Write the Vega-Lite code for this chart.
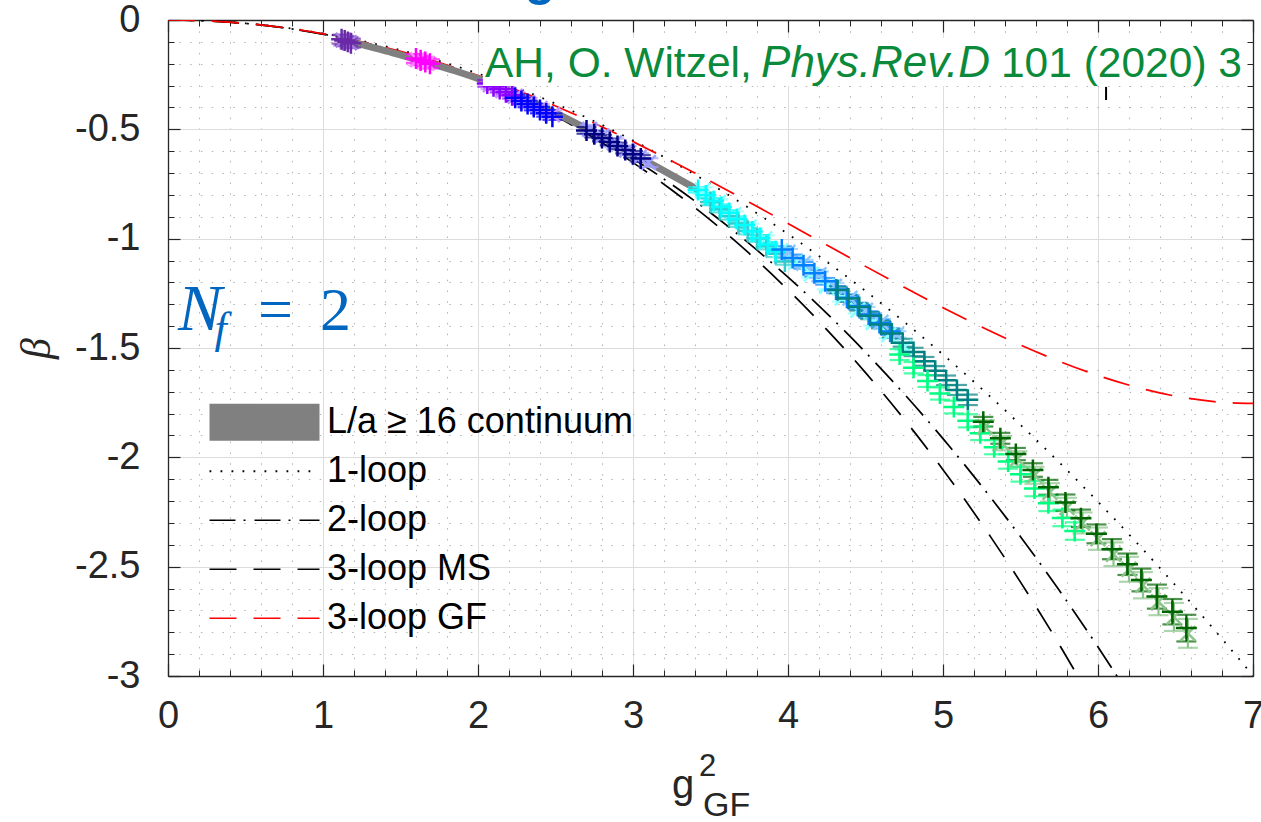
{
  "$schema": "https://vega.github.io/schema/vega-lite/v6.json",
  "width": 1085,
  "height": 656,
  "autosize": "none",
  "padding": {"left": 168, "top": 20, "right": 8, "bottom": 146},
  "background": "white",
  "config": {
    "view": {"stroke": null},
    "axis": {"domainColor": "#262626", "tickColor": "#262626", "labelColor": "#262626", "titleColor": "#262626", "labelFont": "Liberation Sans", "titleFont": "Liberation Sans", "gridColor": "#dcdcdc"},
    "legend": {"orient": "none", "legendX": 23, "legendY": 378, "padding": 0, "symbolType": "stroke", "symbolSize": 12100, "clipHeight": 48.5, "rowPadding": 0, "labelFont": "Liberation Sans", "labelFontSize": 36, "labelColor": "#000000", "labelOffset": -11, "labelLimit": 600}
  },
  "datasets": {
    "cont": [
      {"x": 1.10, "y": -0.085},
      {"x": 1.25, "y": -0.113},
      {"x": 1.45, "y": -0.150},
      {"x": 1.65, "y": -0.190},
      {"x": 1.85, "y": -0.232},
      {"x": 2.05, "y": -0.281},
      {"x": 2.25, "y": -0.340},
      {"x": 2.50, "y": -0.425},
      {"x": 2.75, "y": -0.516},
      {"x": 3.00, "y": -0.612},
      {"x": 3.20, "y": -0.690},
      {"x": 3.42, "y": -0.777}
    ],
    "curves": [
      {"curve": "1-loop", "x": 0, "y": 0},
      {"curve": "1-loop", "x": 0.25, "y": -0.0038},
      {"curve": "1-loop", "x": 0.5, "y": -0.0153},
      {"curve": "1-loop", "x": 0.75, "y": -0.0344},
      {"curve": "1-loop", "x": 1, "y": -0.0612},
      {"curve": "1-loop", "x": 1.25, "y": -0.0956},
      {"curve": "1-loop", "x": 1.5, "y": -0.1377},
      {"curve": "1-loop", "x": 1.75, "y": -0.1874},
      {"curve": "1-loop", "x": 2, "y": -0.2448},
      {"curve": "1-loop", "x": 2.25, "y": -0.3098},
      {"curve": "1-loop", "x": 2.5, "y": -0.3825},
      {"curve": "1-loop", "x": 2.75, "y": -0.4628},
      {"curve": "1-loop", "x": 3, "y": -0.5508},
      {"curve": "1-loop", "x": 3.25, "y": -0.6464},
      {"curve": "1-loop", "x": 3.5, "y": -0.7497},
      {"curve": "1-loop", "x": 3.75, "y": -0.8606},
      {"curve": "1-loop", "x": 4, "y": -0.9792},
      {"curve": "1-loop", "x": 4.25, "y": -1.1054},
      {"curve": "1-loop", "x": 4.5, "y": -1.2393},
      {"curve": "1-loop", "x": 4.75, "y": -1.3808},
      {"curve": "1-loop", "x": 5, "y": -1.53},
      {"curve": "1-loop", "x": 5.25, "y": -1.6868},
      {"curve": "1-loop", "x": 5.5, "y": -1.8513},
      {"curve": "1-loop", "x": 5.75, "y": -2.0234},
      {"curve": "1-loop", "x": 6, "y": -2.2032},
      {"curve": "1-loop", "x": 6.25, "y": -2.3906},
      {"curve": "1-loop", "x": 6.5, "y": -2.5857},
      {"curve": "1-loop", "x": 6.75, "y": -2.7884},
      {"curve": "1-loop", "x": 7, "y": -2.9988},
      {"curve": "2-loop", "x": 0, "y": 0},
      {"curve": "2-loop", "x": 0.25, "y": -0.0039},
      {"curve": "2-loop", "x": 0.5, "y": -0.0157},
      {"curve": "2-loop", "x": 0.75, "y": -0.0357},
      {"curve": "2-loop", "x": 1, "y": -0.0643},
      {"curve": "2-loop", "x": 1.25, "y": -0.1016},
      {"curve": "2-loop", "x": 1.5, "y": -0.1481},
      {"curve": "2-loop", "x": 1.75, "y": -0.2039},
      {"curve": "2-loop", "x": 2, "y": -0.2694},
      {"curve": "2-loop", "x": 2.25, "y": -0.3448},
      {"curve": "2-loop", "x": 2.5, "y": -0.4306},
      {"curve": "2-loop", "x": 2.75, "y": -0.5268},
      {"curve": "2-loop", "x": 3, "y": -0.6338},
      {"curve": "2-loop", "x": 3.25, "y": -0.7520},
      {"curve": "2-loop", "x": 3.5, "y": -0.8815},
      {"curve": "2-loop", "x": 3.75, "y": -1.0228},
      {"curve": "2-loop", "x": 4, "y": -1.1760},
      {"curve": "2-loop", "x": 4.25, "y": -1.3415},
      {"curve": "2-loop", "x": 4.5, "y": -1.5195},
      {"curve": "2-loop", "x": 4.75, "y": -1.7104},
      {"curve": "2-loop", "x": 5, "y": -1.9144},
      {"curve": "2-loop", "x": 5.25, "y": -2.1318},
      {"curve": "2-loop", "x": 5.5, "y": -2.3629},
      {"curve": "2-loop", "x": 5.75, "y": -2.6080},
      {"curve": "2-loop", "x": 6, "y": -2.8674},
      {"curve": "2-loop", "x": 6.25, "y": -3.1413},
      {"curve": "3-loop MS", "x": 0, "y": 0},
      {"curve": "3-loop MS", "x": 0.25, "y": -0.0039},
      {"curve": "3-loop MS", "x": 0.5, "y": -0.0157},
      {"curve": "3-loop MS", "x": 0.75, "y": -0.0358},
      {"curve": "3-loop MS", "x": 1, "y": -0.0645},
      {"curve": "3-loop MS", "x": 1.25, "y": -0.1022},
      {"curve": "3-loop MS", "x": 1.5, "y": -0.1492},
      {"curve": "3-loop MS", "x": 1.75, "y": -0.2060},
      {"curve": "3-loop MS", "x": 2, "y": -0.2730},
      {"curve": "3-loop MS", "x": 2.25, "y": -0.3506},
      {"curve": "3-loop MS", "x": 2.5, "y": -0.4394},
      {"curve": "3-loop MS", "x": 2.75, "y": -0.5398},
      {"curve": "3-loop MS", "x": 3, "y": -0.6522},
      {"curve": "3-loop MS", "x": 3.25, "y": -0.7773},
      {"curve": "3-loop MS", "x": 3.5, "y": -0.9156},
      {"curve": "3-loop MS", "x": 3.75, "y": -1.0677},
      {"curve": "3-loop MS", "x": 4, "y": -1.2341},
      {"curve": "3-loop MS", "x": 4.25, "y": -1.4156},
      {"curve": "3-loop MS", "x": 4.5, "y": -1.6126},
      {"curve": "3-loop MS", "x": 4.75, "y": -1.8260},
      {"curve": "3-loop MS", "x": 5, "y": -2.0563},
      {"curve": "3-loop MS", "x": 5.25, "y": -2.3042},
      {"curve": "3-loop MS", "x": 5.5, "y": -2.5706},
      {"curve": "3-loop MS", "x": 5.75, "y": -2.8561},
      {"curve": "3-loop MS", "x": 6, "y": -3.1616},
      {"curve": "3-loop GF", "x": 0, "y": 0},
      {"curve": "3-loop GF", "x": 0.25, "y": -0.0039},
      {"curve": "3-loop GF", "x": 0.5, "y": -0.0156},
      {"curve": "3-loop GF", "x": 0.75, "y": -0.0354},
      {"curve": "3-loop GF", "x": 1, "y": -0.0633},
      {"curve": "3-loop GF", "x": 1.25, "y": -0.0993},
      {"curve": "3-loop GF", "x": 1.5, "y": -0.1433},
      {"curve": "3-loop GF", "x": 1.75, "y": -0.1949},
      {"curve": "3-loop GF", "x": 2, "y": -0.2541},
      {"curve": "3-loop GF", "x": 2.25, "y": -0.3203},
      {"curve": "3-loop GF", "x": 2.5, "y": -0.3931},
      {"curve": "3-loop GF", "x": 2.75, "y": -0.4720},
      {"curve": "3-loop GF", "x": 3, "y": -0.5562},
      {"curve": "3-loop GF", "x": 3.25, "y": -0.6451},
      {"curve": "3-loop GF", "x": 3.5, "y": -0.7377},
      {"curve": "3-loop GF", "x": 3.75, "y": -0.8334},
      {"curve": "3-loop GF", "x": 4, "y": -0.9308},
      {"curve": "3-loop GF", "x": 4.25, "y": -1.0289},
      {"curve": "3-loop GF", "x": 4.5, "y": -1.1267},
      {"curve": "3-loop GF", "x": 4.75, "y": -1.2227},
      {"curve": "3-loop GF", "x": 5, "y": -1.3156},
      {"curve": "3-loop GF", "x": 5.25, "y": -1.4040},
      {"curve": "3-loop GF", "x": 5.5, "y": -1.4863},
      {"curve": "3-loop GF", "x": 5.75, "y": -1.5608},
      {"curve": "3-loop GF", "x": 6, "y": -1.6258},
      {"curve": "3-loop GF", "x": 6.25, "y": -1.6795},
      {"curve": "3-loop GF", "x": 6.5, "y": -1.7201},
      {"curve": "3-loop GF", "x": 6.75, "y": -1.7454},
      {"curve": "3-loop GF", "x": 7, "y": -1.7535}
    ],
    "pts": [
      {"s": "P1L", "x": 1.13, "y": -0.092, "e": 0.025},
      {"s": "P1L", "x": 1.17, "y": -0.104, "e": 0.025},
      {"s": "P1", "x": 1.12, "y": -0.088, "e": 0.02},
      {"s": "P1", "x": 1.14, "y": -0.094, "e": 0.02},
      {"s": "P1", "x": 1.16, "y": -0.100, "e": 0.02},
      {"s": "P1", "x": 1.18, "y": -0.106, "e": 0.02},
      {"s": "ML", "x": 1.61, "y": -0.182, "e": 0.025},
      {"s": "ML", "x": 1.67, "y": -0.198, "e": 0.025},
      {"s": "M", "x": 1.60, "y": -0.176, "e": 0.02},
      {"s": "M", "x": 1.63, "y": -0.184, "e": 0.02},
      {"s": "M", "x": 1.66, "y": -0.192, "e": 0.02},
      {"s": "M", "x": 1.69, "y": -0.200, "e": 0.02},
      {"s": "VL", "x": 2.08, "y": -0.296, "e": 0.02},
      {"s": "VL", "x": 2.16, "y": -0.322, "e": 0.02},
      {"s": "VL", "x": 2.24, "y": -0.349, "e": 0.02},
      {"s": "VL", "x": 2.32, "y": -0.377, "e": 0.02},
      {"s": "VL", "x": 2.40, "y": -0.405, "e": 0.02},
      {"s": "VL", "x": 2.48, "y": -0.433, "e": 0.02},
      {"s": "V", "x": 2.06, "y": -0.290, "e": 0.015},
      {"s": "V", "x": 2.10, "y": -0.303, "e": 0.015},
      {"s": "V", "x": 2.14, "y": -0.316, "e": 0.015},
      {"s": "V", "x": 2.18, "y": -0.330, "e": 0.015},
      {"s": "V", "x": 2.22, "y": -0.344, "e": 0.015},
      {"s": "B", "x": 2.24, "y": -0.356, "e": 0.015},
      {"s": "B", "x": 2.28, "y": -0.370, "e": 0.015},
      {"s": "B", "x": 2.32, "y": -0.384, "e": 0.015},
      {"s": "B", "x": 2.36, "y": -0.398, "e": 0.015},
      {"s": "B", "x": 2.40, "y": -0.412, "e": 0.015},
      {"s": "B", "x": 2.44, "y": -0.427, "e": 0.015},
      {"s": "B", "x": 2.48, "y": -0.442, "e": 0.015},
      {"s": "NL", "x": 2.72, "y": -0.500, "e": 0.02},
      {"s": "NL", "x": 2.80, "y": -0.530, "e": 0.02},
      {"s": "NL", "x": 2.88, "y": -0.562, "e": 0.02},
      {"s": "NL", "x": 2.96, "y": -0.595, "e": 0.02},
      {"s": "NL", "x": 3.04, "y": -0.628, "e": 0.02},
      {"s": "NL", "x": 3.10, "y": -0.652, "e": 0.02},
      {"s": "N", "x": 2.70, "y": -0.505, "e": 0.015},
      {"s": "N", "x": 2.75, "y": -0.522, "e": 0.015},
      {"s": "N", "x": 2.80, "y": -0.540, "e": 0.015},
      {"s": "N", "x": 2.85, "y": -0.558, "e": 0.015},
      {"s": "N", "x": 2.90, "y": -0.576, "e": 0.015},
      {"s": "N", "x": 2.95, "y": -0.595, "e": 0.015},
      {"s": "N", "x": 3.00, "y": -0.614, "e": 0.015},
      {"s": "N", "x": 3.05, "y": -0.633, "e": 0.015},
      {"s": "CL", "x": 3.45, "y": -0.780, "e": 0.015},
      {"s": "CL", "x": 3.55, "y": -0.835, "e": 0.015},
      {"s": "CL", "x": 3.65, "y": -0.890, "e": 0.015},
      {"s": "CL", "x": 3.75, "y": -0.946, "e": 0.015},
      {"s": "CL", "x": 3.85, "y": -1.000, "e": 0.015},
      {"s": "CL", "x": 3.95, "y": -1.055, "e": 0.015},
      {"s": "CL", "x": 4.05, "y": -1.108, "e": 0.015},
      {"s": "CL", "x": 4.15, "y": -1.162, "e": 0.015},
      {"s": "CL", "x": 4.25, "y": -1.217, "e": 0.015},
      {"s": "CL", "x": 4.35, "y": -1.272, "e": 0.015},
      {"s": "CL", "x": 4.45, "y": -1.327, "e": 0.015},
      {"s": "CL", "x": 4.55, "y": -1.383, "e": 0.015},
      {"s": "CL", "x": 4.65, "y": -1.440, "e": 0.015},
      {"s": "CL", "x": 4.75, "y": -1.495, "e": 0.015},
      {"s": "T2", "x": 3.50, "y": -0.832, "e": 0.015},
      {"s": "T2", "x": 3.56, "y": -0.865, "e": 0.015},
      {"s": "T2", "x": 3.62, "y": -0.898, "e": 0.015},
      {"s": "T2", "x": 3.68, "y": -0.931, "e": 0.015},
      {"s": "T2", "x": 3.74, "y": -0.965, "e": 0.015},
      {"s": "T2", "x": 3.80, "y": -0.999, "e": 0.015},
      {"s": "T2", "x": 3.86, "y": -1.034, "e": 0.015},
      {"s": "T2", "x": 3.92, "y": -1.069, "e": 0.015},
      {"s": "T2", "x": 3.98, "y": -1.104, "e": 0.015},
      {"s": "C", "x": 3.42, "y": -0.777, "e": 0.012},
      {"s": "C", "x": 3.47, "y": -0.802, "e": 0.012},
      {"s": "C", "x": 3.52, "y": -0.828, "e": 0.012},
      {"s": "C", "x": 3.57, "y": -0.855, "e": 0.012},
      {"s": "C", "x": 3.62, "y": -0.882, "e": 0.012},
      {"s": "C", "x": 3.67, "y": -0.910, "e": 0.012},
      {"s": "C", "x": 3.72, "y": -0.938, "e": 0.012},
      {"s": "C", "x": 3.77, "y": -0.967, "e": 0.012},
      {"s": "C", "x": 3.82, "y": -0.997, "e": 0.012},
      {"s": "C", "x": 3.87, "y": -1.027, "e": 0.012},
      {"s": "C", "x": 3.92, "y": -1.058, "e": 0.012},
      {"s": "DL", "x": 4.00, "y": -1.062, "e": 0.015},
      {"s": "DL", "x": 4.10, "y": -1.112, "e": 0.015},
      {"s": "DL", "x": 4.20, "y": -1.165, "e": 0.015},
      {"s": "DL", "x": 4.30, "y": -1.218, "e": 0.015},
      {"s": "DL", "x": 4.40, "y": -1.272, "e": 0.015},
      {"s": "DL", "x": 4.50, "y": -1.327, "e": 0.015},
      {"s": "DL", "x": 4.60, "y": -1.382, "e": 0.015},
      {"s": "DL", "x": 4.70, "y": -1.438, "e": 0.015},
      {"s": "D", "x": 3.96, "y": -1.050, "e": 0.015},
      {"s": "D", "x": 4.03, "y": -1.088, "e": 0.015},
      {"s": "D", "x": 4.10, "y": -1.122, "e": 0.015},
      {"s": "D", "x": 4.17, "y": -1.158, "e": 0.015},
      {"s": "D", "x": 4.24, "y": -1.195, "e": 0.015},
      {"s": "D", "x": 4.31, "y": -1.232, "e": 0.015},
      {"s": "D", "x": 4.38, "y": -1.270, "e": 0.015},
      {"s": "D", "x": 4.45, "y": -1.308, "e": 0.015},
      {"s": "D", "x": 4.52, "y": -1.347, "e": 0.015},
      {"s": "D", "x": 4.59, "y": -1.386, "e": 0.015},
      {"s": "D", "x": 4.66, "y": -1.425, "e": 0.015},
      {"s": "T", "x": 4.32, "y": -1.235, "e": 0.015},
      {"s": "T", "x": 4.39, "y": -1.274, "e": 0.015},
      {"s": "T", "x": 4.46, "y": -1.313, "e": 0.016},
      {"s": "T", "x": 4.53, "y": -1.352, "e": 0.016},
      {"s": "T", "x": 4.60, "y": -1.393, "e": 0.017},
      {"s": "T", "x": 4.67, "y": -1.434, "e": 0.018},
      {"s": "T", "x": 4.74, "y": -1.476, "e": 0.018},
      {"s": "T", "x": 4.81, "y": -1.518, "e": 0.019},
      {"s": "T", "x": 4.88, "y": -1.561, "e": 0.020},
      {"s": "T", "x": 4.95, "y": -1.604, "e": 0.021},
      {"s": "T", "x": 5.02, "y": -1.648, "e": 0.022},
      {"s": "T", "x": 5.09, "y": -1.692, "e": 0.023},
      {"s": "T", "x": 5.16, "y": -1.737, "e": 0.024},
      {"s": "S", "x": 4.72, "y": -1.530, "e": 0.025},
      {"s": "S", "x": 4.81, "y": -1.590, "e": 0.026},
      {"s": "S", "x": 4.90, "y": -1.651, "e": 0.027},
      {"s": "S", "x": 4.98, "y": -1.708, "e": 0.028},
      {"s": "S", "x": 5.07, "y": -1.770, "e": 0.029},
      {"s": "S", "x": 5.16, "y": -1.833, "e": 0.030},
      {"s": "S", "x": 5.24, "y": -1.890, "e": 0.031},
      {"s": "S", "x": 5.33, "y": -1.954, "e": 0.032},
      {"s": "S", "x": 5.42, "y": -2.019, "e": 0.033},
      {"s": "S", "x": 5.50, "y": -2.077, "e": 0.034},
      {"s": "S", "x": 5.59, "y": -2.143, "e": 0.035},
      {"s": "S", "x": 5.68, "y": -2.210, "e": 0.036},
      {"s": "S", "x": 5.77, "y": -2.277, "e": 0.038},
      {"s": "S", "x": 5.85, "y": -2.337, "e": 0.040},
      {"s": "GL", "x": 5.27, "y": -1.860, "e": 0.030},
      {"s": "GL", "x": 5.38, "y": -1.935, "e": 0.033},
      {"s": "GL", "x": 5.48, "y": -2.008, "e": 0.036},
      {"s": "GL", "x": 5.59, "y": -2.082, "e": 0.039},
      {"s": "GL", "x": 5.69, "y": -2.160, "e": 0.042},
      {"s": "GL", "x": 5.80, "y": -2.230, "e": 0.045},
      {"s": "GL", "x": 5.90, "y": -2.300, "e": 0.048},
      {"s": "GL", "x": 6.00, "y": -2.372, "e": 0.051},
      {"s": "GL", "x": 6.10, "y": -2.443, "e": 0.054},
      {"s": "GL", "x": 6.20, "y": -2.512, "e": 0.057},
      {"s": "GL", "x": 6.29, "y": -2.585, "e": 0.060},
      {"s": "GL", "x": 6.39, "y": -2.660, "e": 0.062},
      {"s": "GL", "x": 6.49, "y": -2.730, "e": 0.064},
      {"s": "GL", "x": 6.58, "y": -2.805, "e": 0.066},
      {"s": "G", "x": 5.26, "y": -1.837, "e": 0.022},
      {"s": "G", "x": 5.37, "y": -1.913, "e": 0.025},
      {"s": "G", "x": 5.47, "y": -1.985, "e": 0.028},
      {"s": "G", "x": 5.58, "y": -2.058, "e": 0.031},
      {"s": "G", "x": 5.68, "y": -2.137, "e": 0.034},
      {"s": "G", "x": 5.79, "y": -2.207, "e": 0.037},
      {"s": "G", "x": 5.89, "y": -2.279, "e": 0.040},
      {"s": "G", "x": 5.99, "y": -2.350, "e": 0.043},
      {"s": "G", "x": 6.09, "y": -2.420, "e": 0.046},
      {"s": "G", "x": 6.19, "y": -2.489, "e": 0.049},
      {"s": "G", "x": 6.28, "y": -2.561, "e": 0.052},
      {"s": "G", "x": 6.38, "y": -2.637, "e": 0.055},
      {"s": "G", "x": 6.48, "y": -2.706, "e": 0.058},
      {"s": "G", "x": 6.57, "y": -2.781, "e": 0.061}
    ],
    "box": [{"x1": 2.032, "x2": 6.94, "y1": -0.082, "y2": -0.302}],
    "cite": [{"x": 2.045, "y": -0.259, "t": "AH, O. Witzel,"}, {"x": 5.374, "y": -0.259, "t": "101 (2020) 3"}],
    "citeI": [{"x": 3.826, "y": -0.259, "t": "Phys.Rev.D"}],
    "nfN": [{"x": 0.065, "y": -1.417, "t": "N"}],
    "nff": [{"x": 0.30, "y": -1.477, "t": "f"}],
    "nfEq": [{"x": 0.581, "y": -1.417, "t": "="}, {"x": 0.98, "y": -1.417, "t": "2"}],
    "xg": [{"x": 3.323, "y": -3.557, "t": "g"}],
    "xsup": [{"x": 3.426, "y": -3.457, "t": "2"}],
    "xsub": [{"x": 3.452, "y": -3.64, "t": "GF"}],
    "topg": [{"x": 2.40, "y": 0.114, "t": "g"}],
    "frag": [{"x": 6.052, "y": -0.306, "y2": -0.366}]
  },
  "layer": [
    {
      "data": {"name": "curves"},
      "mark": {"type": "line", "clip": true, "interpolate": "monotone"},
      "encoding": {
        "x": {"field": "x", "type": "quantitative", "scale": {"domain": [0, 7], "nice": false, "zero": false},
          "axis": {"orient": "bottom", "values": [0, 1, 2, 3, 4, 5, 6, 7], "grid": true, "gridColor": "#dcdcdc", "gridWidth": 1, "tickSize": -12, "tickWidth": 1.2, "domainWidth": 1.3, "labelFontSize": 38, "labelPadding": 33, "labelFlush": false, "labelExpr": "toString(datum.value)", "title": null}},
        "y": {"field": "y", "type": "quantitative", "scale": {"domain": [-3, 0], "nice": false, "zero": false},
          "axis": {"orient": "left", "values": [-3, -2.5, -2, -1.5, -1, -0.5, 0], "grid": true, "gridColor": "#dcdcdc", "gridWidth": 1, "tickSize": -12, "tickWidth": 1.2, "domainWidth": 1.3, "labelFontSize": 38, "labelPadding": 40, "labelFlush": false, "labelExpr": "toString(datum.value)", "title": "β", "titleFont": "Liberation Serif", "titleFontStyle": "italic", "titleFontSize": 42, "titleFontWeight": "normal", "titlePadding": 16}},
        "color": {"field": "curve", "type": "nominal",
          "scale": {"domain": ["L/a ≥ 16 continuum", "1-loop", "2-loop", "3-loop MS", "3-loop GF"], "range": ["#808080", "#000000", "#000000", "#000000", "#ff0000"]},
          "legend": {"title": null}},
        "strokeDash": {"field": "curve", "type": "nominal",
          "scale": {"domain": ["L/a ≥ 16 continuum", "1-loop", "2-loop", "3-loop MS", "3-loop GF"], "range": [[1, 0], [1.8, 9.2], [26, 8, 2, 9], [27, 17], [27, 17]]},
          "legend": {"title": null}},
        "strokeWidth": {"field": "curve", "type": "nominal",
          "scale": {"type": "ordinal", "domain": ["L/a ≥ 16 continuum", "1-loop", "2-loop", "3-loop MS", "3-loop GF"], "range": [37, 1.8, 1.7, 1.7, 1.7]},
          "legend": {"title": null}}
      }
    },
    {
      "data": {"name": "cont"},
      "mark": {"type": "line", "color": "#808080", "strokeWidth": 7, "interpolate": "monotone"},
      "encoding": {
        "x": {"field": "x", "type": "quantitative", "scale": {"domain": [0, 7], "nice": false, "zero": false}, "axis": null},
        "y": {"field": "y", "type": "quantitative", "scale": {"domain": [-3, 0], "nice": false, "zero": false}, "axis": null}
      }
    },
    {
      "data": {"name": "pts"},
      "mark": {"type": "errorbar", "ticks": true, "size": 20, "thickness": 2.2},
      "encoding": {
        "x": {"field": "x", "type": "quantitative", "scale": {"domain": [0, 7], "nice": false, "zero": false}, "axis": null},
        "y": {"field": "y", "type": "quantitative", "scale": {"domain": [-3, 0], "nice": false, "zero": false}, "axis": null},
        "yError": {"field": "e"},
        "color": {"field": "s", "type": "nominal", "legend": null,
          "scale": {"domain": ["P1L", "P1", "ML", "M", "VL", "V", "B", "NL", "N", "CL", "T2", "C", "DL", "D", "T", "S", "GL", "G"],
            "range": ["#a57fe0", "#6a2aa8", "#ff8cff", "#ff00ff", "#c393ff", "#8c00ff", "#0000ff", "#9f9fff", "#000080", "#8cffff", "#33cccc", "#00ffff", "#8cc6ff", "#0080ff", "#008080", "#00ff80", "#8cc48c", "#006400"]}}
      }
    },
    {
      "data": {"name": "pts"},
      "mark": {"type": "point", "filled": false, "size": 440, "strokeWidth": 2.5, "opacity": 1},
      "encoding": {
        "x": {"field": "x", "type": "quantitative", "scale": {"domain": [0, 7], "nice": false, "zero": false},
          "axis": {"orient": "bottom", "values": [0.2, 0.4, 0.6, 0.8, 1.2, 1.4, 1.6, 1.8, 2.2, 2.4, 2.6, 2.8, 3.2, 3.4, 3.6, 3.8, 4.2, 4.4, 4.6, 4.8, 5.2, 5.4, 5.6, 5.8, 6.2, 6.4, 6.6, 6.8], "grid": true, "gridDash": [1.5, 9.3], "gridColor": "#b4b4b4", "gridWidth": 1, "tickSize": -6, "tickWidth": 1, "labels": false, "domain": false, "title": null}},
        "y": {"field": "y", "type": "quantitative", "scale": {"domain": [-3, 0], "nice": false, "zero": false},
          "axis": {"orient": "left", "values": [-0.1, -0.2, -0.3, -0.4, -0.6, -0.7, -0.8, -0.9, -1.1, -1.2, -1.3, -1.4, -1.6, -1.7, -1.8, -1.9, -2.1, -2.2, -2.3, -2.4, -2.6, -2.7, -2.8, -2.9], "grid": true, "gridDash": [1.5, 9.3], "gridColor": "#b4b4b4", "gridWidth": 1, "tickSize": -6, "tickWidth": 1, "labels": false, "domain": false, "title": null}},
        "color": {"field": "s", "type": "nominal", "legend": null,
          "scale": {"domain": ["P1L", "P1", "ML", "M", "VL", "V", "B", "NL", "N", "CL", "T2", "C", "DL", "D", "T", "S", "GL", "G"],
            "range": ["#a57fe0", "#6a2aa8", "#ff8cff", "#ff00ff", "#c393ff", "#8c00ff", "#0000ff", "#9f9fff", "#000080", "#8cffff", "#33cccc", "#00ffff", "#8cc6ff", "#0080ff", "#008080", "#00ff80", "#8cc48c", "#006400"]}},
        "shape": {"field": "s", "type": "nominal", "legend": null,
          "scale": {"domain": ["P1L", "P1", "ML", "M", "VL", "V", "B", "NL", "N", "CL", "T2", "C", "DL", "D", "T", "S", "GL", "G"],
            "range": ["M-0.7,-0.7L0.7,0.7M-0.7,0.7L0.7,-0.7", "M-1,0H1M0,-1V1", "M-0.7,-0.7L0.7,0.7M-0.7,0.7L0.7,-0.7", "M-1,0H1M0,-1V1", "M-0.7,-0.7L0.7,0.7M-0.7,0.7L0.7,-0.7", "M-1,0H1M0,-1V1", "M-1,0H1M0,-1V1", "M-0.7,-0.7L0.7,0.7M-0.7,0.7L0.7,-0.7", "M-1,0H1M0,-1V1", "M-0.7,-0.7L0.7,0.7M-0.7,0.7L0.7,-0.7", "M-1,0H1M0,-1V1", "M-1,0H1M0,-1V1", "M-0.7,-0.7L0.7,0.7M-0.7,0.7L0.7,-0.7", "M-1,0H1M0,-1V1", "M-1,0H1M0,-1V1", "M-1,0H1M0,-1V1", "M-0.7,-0.7L0.7,0.7M-0.7,0.7L0.7,-0.7", "M-1,0H1M0,-1V1"]}}
      }
    },
    {
      "data": {"name": "box"},
      "mark": {"type": "rect", "color": "#ffffff", "opacity": 1},
      "encoding": {
        "x": {"field": "x1", "type": "quantitative", "scale": {"domain": [0, 7], "nice": false, "zero": false},
          "axis": {"orient": "top", "values": [0, 1, 2, 3, 4, 5, 6, 7], "grid": false, "tickSize": -12, "tickWidth": 1.2, "domainWidth": 1.3, "labels": false, "title": null}},
        "x2": {"field": "x2"},
        "y": {"field": "y1", "type": "quantitative", "scale": {"domain": [-3, 0], "nice": false, "zero": false},
          "axis": {"orient": "right", "values": [-3, -2.5, -2, -1.5, -1, -0.5, 0], "grid": false, "tickSize": -12, "tickWidth": 1.2, "domainWidth": 1.3, "labels": false, "title": null}},
        "y2": {"field": "y2"}
      }
    },
    {
      "data": {"name": "frag"},
      "mark": {"type": "rule", "color": "#000000", "strokeWidth": 2},
      "encoding": {
        "x": {"field": "x", "type": "quantitative", "scale": {"domain": [0, 7], "nice": false, "zero": false}, "axis": null},
        "y": {"field": "y", "type": "quantitative", "scale": {"domain": [-3, 0], "nice": false, "zero": false}, "axis": null},
        "y2": {"field": "y2"}
      }
    },
    {
      "data": {"name": "cite"},
      "mark": {"type": "text", "align": "left", "baseline": "alphabetic", "font": "Liberation Sans", "fontSize": 42.5, "color": "#0a8a3a", "clip": true},
      "encoding": {
        "x": {"field": "x", "type": "quantitative", "scale": {"domain": [0, 7], "nice": false, "zero": false},
          "axis": {"orient": "top", "values": [0.2, 0.4, 0.6, 0.8, 1.2, 1.4, 1.6, 1.8, 2.2, 2.4, 2.6, 2.8, 3.2, 3.4, 3.6, 3.8, 4.2, 4.4, 4.6, 4.8, 5.2, 5.4, 5.6, 5.8, 6.2, 6.4, 6.6, 6.8], "grid": false, "tickSize": -6, "tickWidth": 1, "labels": false, "domain": false, "title": null}},
        "y": {"field": "y", "type": "quantitative", "scale": {"domain": [-3, 0], "nice": false, "zero": false},
          "axis": {"orient": "right", "values": [-0.1, -0.2, -0.3, -0.4, -0.6, -0.7, -0.8, -0.9, -1.1, -1.2, -1.3, -1.4, -1.6, -1.7, -1.8, -1.9, -2.1, -2.2, -2.3, -2.4, -2.6, -2.7, -2.8, -2.9], "grid": false, "tickSize": -6, "tickWidth": 1, "labels": false, "domain": false, "title": null}},
        "text": {"field": "t"}
      }
    },
    {
      "data": {"name": "citeI"},
      "mark": {"type": "text", "align": "left", "baseline": "alphabetic", "font": "Liberation Sans", "fontStyle": "italic", "fontSize": 44, "color": "#0a8a3a"},
      "encoding": {
        "x": {"field": "x", "type": "quantitative", "scale": {"domain": [0, 7], "nice": false, "zero": false}, "axis": null},
        "y": {"field": "y", "type": "quantitative", "scale": {"domain": [-3, 0], "nice": false, "zero": false}, "axis": null},
        "text": {"field": "t"}
      }
    },
    {
      "data": {"name": "nfN"},
      "mark": {"type": "text", "align": "left", "baseline": "alphabetic", "font": "Liberation Serif", "fontStyle": "italic", "fontSize": 66, "color": "#0066bf"},
      "encoding": {
        "x": {"field": "x", "type": "quantitative", "scale": {"domain": [0, 7], "nice": false, "zero": false}, "axis": null},
        "y": {"field": "y", "type": "quantitative", "scale": {"domain": [-3, 0], "nice": false, "zero": false}, "axis": null},
        "text": {"field": "t"}
      }
    },
    {
      "data": {"name": "nff"},
      "mark": {"type": "text", "align": "left", "baseline": "alphabetic", "font": "Liberation Serif", "fontStyle": "italic", "fontSize": 44, "color": "#0066bf"},
      "encoding": {
        "x": {"field": "x", "type": "quantitative", "scale": {"domain": [0, 7], "nice": false, "zero": false}, "axis": null},
        "y": {"field": "y", "type": "quantitative", "scale": {"domain": [-3, 0], "nice": false, "zero": false}, "axis": null},
        "text": {"field": "t"}
      }
    },
    {
      "data": {"name": "nfEq"},
      "mark": {"type": "text", "align": "left", "baseline": "alphabetic", "font": "Liberation Serif", "fontSize": 62, "color": "#0066bf"},
      "encoding": {
        "x": {"field": "x", "type": "quantitative", "scale": {"domain": [0, 7], "nice": false, "zero": false}, "axis": null},
        "y": {"field": "y", "type": "quantitative", "scale": {"domain": [-3, 0], "nice": false, "zero": false}, "axis": null},
        "text": {"field": "t"}
      }
    },
    {
      "data": {"name": "xg"},
      "mark": {"type": "text", "align": "center", "baseline": "alphabetic", "font": "Liberation Sans", "fontSize": 40, "color": "#262626"},
      "encoding": {
        "x": {"field": "x", "type": "quantitative", "scale": {"domain": [0, 7], "nice": false, "zero": false}, "axis": null},
        "y": {"field": "y", "type": "quantitative", "scale": {"domain": [-3, 0], "nice": false, "zero": false}, "axis": null},
        "text": {"field": "t"}
      }
    },
    {
      "data": {"name": "xsup"},
      "mark": {"type": "text", "align": "left", "baseline": "alphabetic", "font": "Liberation Sans", "fontSize": 31, "color": "#262626"},
      "encoding": {
        "x": {"field": "x", "type": "quantitative", "scale": {"domain": [0, 7], "nice": false, "zero": false}, "axis": null},
        "y": {"field": "y", "type": "quantitative", "scale": {"domain": [-3, 0], "nice": false, "zero": false}, "axis": null},
        "text": {"field": "t"}
      }
    },
    {
      "data": {"name": "xsub"},
      "mark": {"type": "text", "align": "left", "baseline": "alphabetic", "font": "Liberation Sans", "fontSize": 34, "color": "#262626"},
      "encoding": {
        "x": {"field": "x", "type": "quantitative", "scale": {"domain": [0, 7], "nice": false, "zero": false}, "axis": null},
        "y": {"field": "y", "type": "quantitative", "scale": {"domain": [-3, 0], "nice": false, "zero": false}, "axis": null},
        "text": {"field": "t"}
      }
    },
    {
      "data": {"name": "topg"},
      "mark": {"type": "text", "align": "center", "baseline": "alphabetic", "font": "Liberation Sans", "fontWeight": "bold", "fontSize": 50, "color": "#0066bf"},
      "encoding": {
        "x": {"field": "x", "type": "quantitative", "scale": {"domain": [0, 7], "nice": false, "zero": false}, "axis": null},
        "y": {"field": "y", "type": "quantitative", "scale": {"domain": [-3, 0], "nice": false, "zero": false}, "axis": null},
        "text": {"field": "t"}
      }
    }
  ],
  "resolve": {"scale": {"color": "independent", "strokeDash": "independent", "strokeWidth": "independent"}, "axis": {"x": "independent", "y": "independent"}}
}
